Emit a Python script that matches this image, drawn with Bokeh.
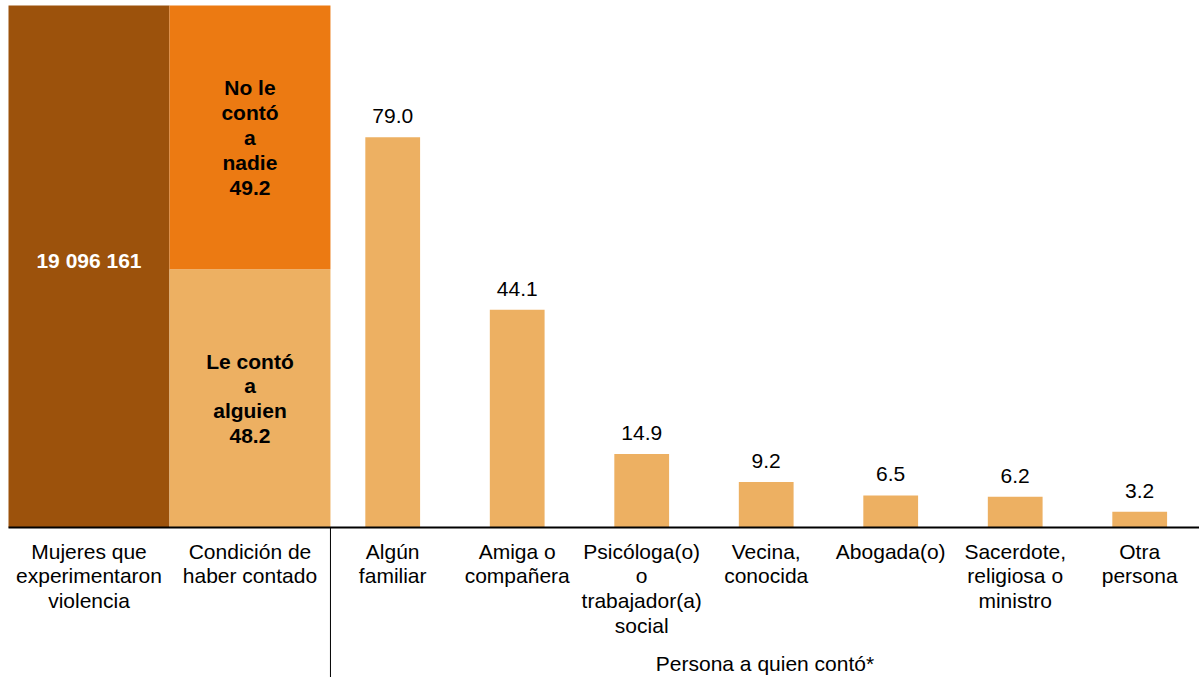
from bokeh.plotting import figure
from bokeh.models import Range1d, ColumnDataSource
from bokeh.core.properties import value
from bokeh.embed import file_html
from bokeh.resources import INLINE

# ---------------- data ----------------
total_women = 19096161
left_labels = ["Mujeres que\nexperimentaron\nviolencia", "Condición de\nhaber contado"]
condition_labels = ["Le contó\na\nalguien", "No le\ncontó\na\nnadie"]
condition_values = [48.2, 49.2]
categories = ["Algún\nfamiliar", "Amiga o\ncompañera",
              "Psicóloga(o)\no\ntrabajador(a)\nsocial", "Vecina,\nconocida",
              "Abogada(o)", "Sacerdote,\nreligiosa o\nministro", "Otra\npersona"]
values = [79.0, 44.1, 14.9, 9.2, 6.5, 6.2, 3.2]
axis_title = "Persona a quien contó*"

# ---------------- style ----------------
BROWN = "#9C520C"
DARK = "#EC7A12"
LIGHT = "#EDB062"
FONT = "Liberation Sans"
FS = "21px"

W, H = 1199, 677
SLOT_PX = 124.5
LEFT = 8 / SLOT_PX      # left white margin, slot units
COL_W = 1.293           # width of the two left columns, in slot units
BAR_W = 0.44
BASE_FROM_TOP = 527     # px from top of the frame to the baseline
COL_TOP = 5             # px from top where the left columns end
PX_PER_UNIT = 4.94
LH = 1.08

y_end = BASE_FROM_TOP / PX_PER_UNIT
y_start = -(H - BASE_FROM_TOP) / PX_PER_UNIT

share_total = sum(condition_values)
share_per_px = share_total / (BASE_FROM_TOP - COL_TOP)
share_end = BASE_FROM_TOP * share_per_px
share_start = -(H - BASE_FROM_TOP) * share_per_px

p = figure(width=W, height=H, output_backend="svg", toolbar_location=None,
           x_range=Range1d(0, W / SLOT_PX), y_range=Range1d(y_start, y_end),
           min_border=0, min_border_left=0, min_border_right=0,
           min_border_top=0, min_border_bottom=0)
p.extra_y_ranges = {"share": Range1d(share_start, share_end)}
p.axis.visible = False
p.grid.visible = False
p.outline_line_color = None
p.background_fill_color = "white"

c1 = LEFT + COL_W / 2
c2 = LEFT + COL_W * 1.5
# left columns
p.quad(left=[LEFT], right=[LEFT + COL_W], bottom=[0], top=[share_total],
       fill_color=BROWN, line_color=None, y_range_name="share")
bottoms = [0, condition_values[0]]
tops = [condition_values[0], share_total]
p.quad(left=[LEFT + COL_W] * 2, right=[LEFT + 2 * COL_W] * 2, bottom=bottoms, top=tops,
       fill_color=[LIGHT, DARK], line_color=None, y_range_name="share")

total_str = f"{total_women:,}".replace(",", " ")
p.text(x=[c1], y=[share_total / 2], text=[total_str], y_range_name="share",
       text_font=value(FONT), text_font_size=FS, text_font_style="bold",
       text_color="white", text_align="center", text_baseline="middle", y_offset=-6)
p.text(x=[c2] * 2, y=[(b + t) / 2 for b, t in zip(bottoms, tops)],
       text=[f"{l}\n{v:.1f}" for l, v in zip(condition_labels, condition_values)],
       y_range_name="share", text_font=value(FONT), text_font_size=FS,
       text_font_style="bold", text_color="black", text_align="center",
       text_baseline="middle", text_line_height=LH)

# bars
div = LEFT + 2 * COL_W
xs = [div + i + 0.5 for i in range(len(values))]
src = ColumnDataSource(dict(x=xs, top=values, lab=[f"{v:.1f}" for v in values],
                            cat=categories))
p.vbar(x="x", top="top", bottom=0, width=BAR_W, source=src,
       fill_color=LIGHT, line_color=None)
p.text(x="x", y="top", text="lab", source=src, text_font=value(FONT),
       text_font_size=FS, text_color="black", text_align="center",
       text_baseline="bottom", y_offset=-14)

# baseline & divider
p.segment(x0=[LEFT], x1=[W / SLOT_PX], y0=[0], y1=[0], line_color="black", line_width=2)
p.segment(x0=[div], x1=[div], y0=[0], y1=[y_start],
          line_color="black", line_width=1)

# category labels
p.text(x="x", y=0, text="cat", source=src, text_font=value(FONT), text_font_size=FS,
       text_color="black", text_align="center", text_baseline="top",
       y_offset=12, text_line_height=LH)
p.text(x=[c1, c2], y=[0, 0], text=left_labels,
       text_font=value(FONT), text_font_size=FS, text_color="black",
       text_align="center", text_baseline="top", y_offset=12, text_line_height=LH)

# axis title
p.text(x=[(div + W / SLOT_PX) / 2], y=[y_start], text=[axis_title],
       text_font=value(FONT), text_font_size=FS, text_color="black",
       text_align="center", text_baseline="middle", y_offset=-14)

open("out.html", "w").write(file_html(p, INLINE))
